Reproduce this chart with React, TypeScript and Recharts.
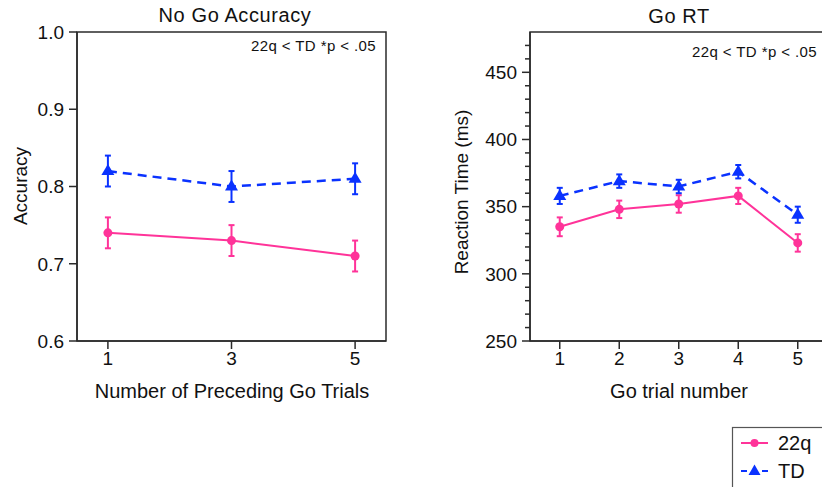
import React from 'react';
import { LineChart, Line, XAxis, YAxis, ErrorBar, ReferenceArea } from 'recharts';

const PINK = '#ff3399';
const BLUE = '#0a32ff';
const AXIS = '#2b2b2b';
const TXT = '#111111';
const FONT = '"Liberation Sans", Arial, Helvetica, sans-serif';

// ---- Left panel: No Go Accuracy ----
const precedingTrials = [1, 3, 5];
const acc22q = [0.74, 0.73, 0.71];
const acc22qErr = [0.02, 0.02, 0.02];
const accTD = [0.82, 0.8, 0.81];
const accTDErr = [0.02, 0.02, 0.02];
const accYTicks = [0.6, 0.7, 0.8, 0.9, 1.0];
const accXTicks = [1, 3, 5];

// ---- Right panel: Go RT ----
const goTrials = [1, 2, 3, 4, 5];
const rt22q = [335, 348, 352, 358, 323];
const rt22qErr = [7, 6.5, 6.5, 6, 6.5];
const rtTD = [358, 369, 365, 376, 344];
const rtTDErr = [6, 5, 5, 5, 6];
const rtMajorTicks = [250, 300, 350, 400, 450];
const rtMinorTicks = [260, 270, 280, 290, 310, 320, 330, 340, 360, 370, 380, 390, 410, 420, 430, 440, 460, 470];
const rtXTicks = [1, 2, 3, 4, 5];

const seriesNames = ['22q', 'TD'];

const accData = precedingTrials.map((x, i) => ({
  x,
  g22q: acc22q[i],
  g22qErr: acc22qErr[i],
  td: accTD[i],
  tdErr: accTDErr[i],
}));

const rtData = goTrials.map((x, i) => ({
  x,
  g22q: rt22q[i],
  g22qErr: rt22qErr[i],
  td: rtTD[i],
  tdErr: rtTDErr[i],
}));

const rtAllTicks = [...rtMajorTicks, ...rtMinorTicks].sort((a, b) => a - b);

const CircleDot = (p: any) => {
  if (p.cx == null || p.cy == null) return <g key={p.key} />;
  return <circle key={p.key} cx={p.cx} cy={p.cy} r={4.5} fill={PINK} />;
};

const TriDot = (p: any) => {
  if (p.cx == null || p.cy == null) return <g key={p.key} />;
  const { cx, cy } = p;
  return (
    <polygon
      key={p.key}
      points={`${cx},${cy - 7} ${cx - 6.5},${cy + 4} ${cx + 6.5},${cy + 4}`}
      fill={BLUE}
    />
  );
};

const makeYTick = (majors: number[], fmt: (v: number) => string) => (props: any) => {
  const { x, y, payload } = props;
  const v = payload.value;
  const major = majors.some((m) => Math.abs(m - v) < 1e-9);
  const len = major ? 8 : 5;
  return (
    <g>
      <line x1={x} x2={x - len} y1={y} y2={y} stroke={AXIS} strokeWidth={1.5} />
      {major && (
        <text
          x={x - len - 5}
          y={y}
          dy="0.36em"
          textAnchor="end"
          fontSize={19}
          fontFamily={FONT}
          fill={TXT}
        >
          {fmt(v)}
        </text>
      )}
    </g>
  );
};

const accYTick = makeYTick(accYTicks, (v) => v.toFixed(1));
const rtYTick = makeYTick(rtMajorTicks, (v) => String(v));

const xTickStyle = { fontSize: 19, fontFamily: FONT, fill: TXT };
const axisLineStyle = { stroke: AXIS, strokeWidth: 1.5 };

export default function App() {
  return (
    <div
      style={{
        position: 'absolute',
        left: 0,
        top: 0,
        width: 822,
        height: 487,
        overflow: 'hidden',
        background: '#ffffff',
        fontFamily: FONT,
      }}
    >
      <div style={{ position: 'absolute', left: 0, top: 0 }}>
        <LineChart
          width={400}
          height={400}
          data={accData}
          margin={{ top: 32, right: 14, bottom: 0, left: 0 }}
        >
          <ReferenceArea
            x1={0.5}
            x2={5.5}
            y1={0.6}
            y2={1.0}
            fill="none"
            fillOpacity={0}
            stroke={AXIS}
            strokeWidth={1.5}
            ifOverflow="visible"
          />
          <XAxis
            dataKey="x"
            type="number"
            domain={[0.5, 5.5]}
            ticks={accXTicks}
            interval={0}
            height={59}
            tickSize={8}
            tickMargin={3}
            tick={xTickStyle}
            tickLine={axisLineStyle}
            axisLine={axisLineStyle}
          />
          <YAxis
            type="number"
            domain={[0.6, 1.0]}
            ticks={accYTicks}
            interval={0}
            width={77}
            tickSize={0}
            tickMargin={0}
            tickLine={false}
            tick={accYTick}
            axisLine={axisLineStyle}
          />
          <Line
            dataKey="g22q"
            name={seriesNames[0]}
            stroke={PINK}
            strokeWidth={2}
            dot={CircleDot}
            activeDot={false}
            isAnimationActive={false}
          >
            <ErrorBar dataKey="g22qErr" width={3} stroke={PINK} strokeWidth={2} direction="y" />
          </Line>
          <Line
            dataKey="td"
            name={seriesNames[1]}
            stroke={BLUE}
            strokeWidth={2.5}
            strokeDasharray="9 6"
            dot={TriDot}
            activeDot={false}
            isAnimationActive={false}
          >
            <ErrorBar dataKey="tdErr" width={3} stroke={BLUE} strokeWidth={2} direction="y" />
          </Line>
        </LineChart>
      </div>

      <div style={{ position: 'absolute', left: 420, top: 0 }}>
        <LineChart
          width={420}
          height={400}
          data={rtData}
          margin={{ top: 32, right: 12.5, bottom: 0, left: 0 }}
        >
          <ReferenceArea
            x1={0.5}
            x2={5.5}
            y1={250}
            y2={480}
            fill="none"
            fillOpacity={0}
            stroke={AXIS}
            strokeWidth={1.5}
            ifOverflow="visible"
          />
          <XAxis
            dataKey="x"
            type="number"
            domain={[0.5, 5.5]}
            ticks={rtXTicks}
            interval={0}
            height={59}
            tickSize={8}
            tickMargin={3}
            tick={xTickStyle}
            tickLine={axisLineStyle}
            axisLine={axisLineStyle}
          />
          <YAxis
            type="number"
            domain={[250, 480]}
            ticks={rtAllTicks}
            interval={0}
            width={110}
            tickSize={0}
            tickMargin={0}
            tickLine={false}
            tick={rtYTick}
            axisLine={axisLineStyle}
          />
          <Line
            dataKey="g22q"
            name={seriesNames[0]}
            stroke={PINK}
            strokeWidth={2}
            dot={CircleDot}
            activeDot={false}
            isAnimationActive={false}
          >
            <ErrorBar dataKey="g22qErr" width={3} stroke={PINK} strokeWidth={2} direction="y" />
          </Line>
          <Line
            dataKey="td"
            name={seriesNames[1]}
            stroke={BLUE}
            strokeWidth={2.5}
            strokeDasharray="9 6"
            dot={TriDot}
            activeDot={false}
            isAnimationActive={false}
          >
            <ErrorBar dataKey="tdErr" width={3} stroke={BLUE} strokeWidth={2} direction="y" />
          </Line>
        </LineChart>
      </div>

      <svg
        width={822}
        height={487}
        style={{ position: 'absolute', left: 0, top: 0, pointerEvents: 'none' }}
      >
        {/* titles */}
        <text x={235} y={22} textAnchor="middle" fontSize={20} letterSpacing={0.6} fontFamily={FONT} fill={TXT}>
          No Go Accuracy
        </text>
        <text x={679} y={23} textAnchor="middle" fontSize={20} letterSpacing={0.6} fontFamily={FONT} fill={TXT}>
          Go RT
        </text>
        {/* annotations */}
        <text x={376} y={51} textAnchor="end" fontSize={15} letterSpacing={0.4} fontFamily={FONT} fill={TXT}>
          22q &lt; TD *p &lt; .05
        </text>
        <text x={817} y={57} textAnchor="end" fontSize={15} letterSpacing={0.4} fontFamily={FONT} fill={TXT}>
          22q &lt; TD *p &lt; .05
        </text>
        {/* axis titles */}
        <text x={232} y={398} textAnchor="middle" fontSize={20} fontFamily={FONT} fill={TXT}>
          Number of Preceding Go Trials
        </text>
        <text x={679} y={398} textAnchor="middle" fontSize={20} fontFamily={FONT} fill={TXT}>
          Go trial number
        </text>
        <text
          x={27}
          y={186}
          textAnchor="middle"
          fontSize={19}
          fontFamily={FONT}
          fill={TXT}
          transform="rotate(-90 27 186)"
        >
          Accuracy
        </text>
        <text
          x={468}
          y={192}
          textAnchor="middle"
          fontSize={19}
          fontFamily={FONT}
          fill={TXT}
          transform="rotate(-90 468 192)"
        >
          Reaction Time (ms)
        </text>
        {/* legend */}
        <rect x={732.5} y={427.5} width={120} height={80} fill="#ffffff" stroke="#555555" strokeWidth={1.2} />
        <line x1={741} x2={768} y1={443} y2={443} stroke={PINK} strokeWidth={2} />
        <circle cx={754.5} cy={443} r={4} fill={PINK} />
        <text x={778} y={450} fontSize={20} fontFamily={FONT} fill={TXT}>
          {seriesNames[0]}
        </text>
        <line x1={741} x2={747} y1={471} y2={471} stroke={BLUE} strokeWidth={2} />
        <line x1={762} x2={768} y1={471} y2={471} stroke={BLUE} strokeWidth={2} />
        <polygon points="754.5,464.5 748.5,475 760.5,475" fill={BLUE} />
        <text x={778} y={478} fontSize={20} fontFamily={FONT} fill={TXT}>
          {seriesNames[1]}
        </text>
      </svg>
    </div>
  );
}
